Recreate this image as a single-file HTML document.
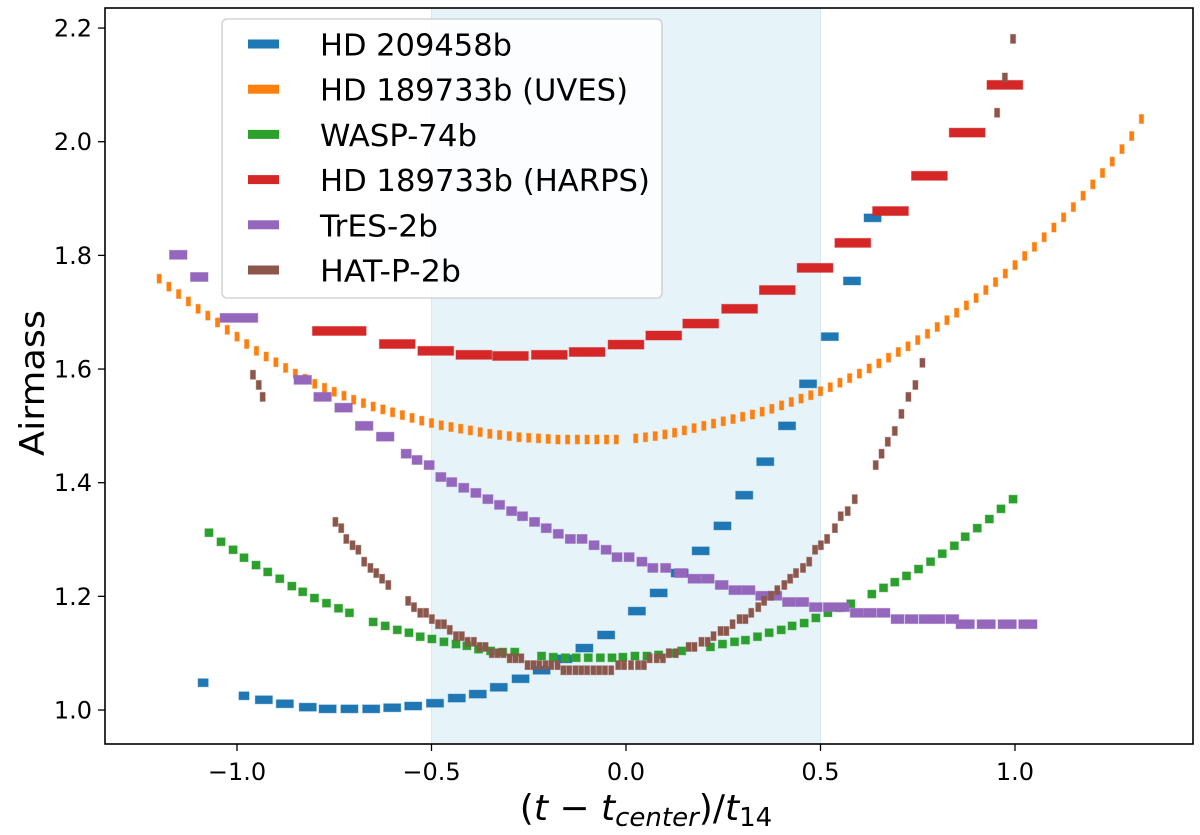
<!DOCTYPE html>
<html><head><meta charset="utf-8"><style>
html,body{margin:0;padding:0;background:#fff;}
svg{display:block;font-family:"DejaVu Sans","Liberation Sans",sans-serif;}
</style></head><body>
<svg id="chart" width="1200" height="835" viewBox="0 0 1200 835" xmlns="http://www.w3.org/2000/svg">
<rect x="0" y="0" width="1200" height="835" fill="#fff"/>
<g id="shade"></g>
<g id="marks"></g>
<rect x="105" y="8" width="1088" height="736" fill="none" stroke="#000" stroke-width="1.6"/>
<g id="axes"></g>
<text x="646" y="820" text-anchor="middle" font-size="36" font-family="DejaVu Sans, Liberation Sans, sans-serif">(<tspan font-style="italic">t</tspan> − <tspan font-style="italic">t</tspan><tspan font-style="italic" font-size="26" dy="6">center</tspan><tspan dy="-6">)/</tspan><tspan font-style="italic">t</tspan><tspan font-size="26" dy="6">14</tspan></text>
<text transform="translate(44,383) rotate(-90)" text-anchor="middle" font-size="34" textLength="146" lengthAdjust="spacingAndGlyphs">Airmass</text>
<g id="legend"></g>
</svg>
<script>
const xTicks=[-1.0,-0.5,0.0,0.5,1.0];
const xTickLabels=["−1.0","−0.5","0.0","0.5","1.0"];
const yTicks=[1.0,1.2,1.4,1.6,1.8,2.0,2.2];
const yTickLabels=["1.0","1.2","1.4","1.6","1.8","2.0","2.2"];
const transitStart=-0.5, transitEnd=0.5;

const blueX=[-1.087,-0.982,-0.931,-0.877,-0.818,-0.767,-0.711,-0.655,-0.601,-0.547,-0.491,-0.435,-0.381,-0.327,-0.271,-0.217,-0.161,-0.107,-0.051,0.028,0.084,0.138,0.192,0.248,0.304,0.358,0.414,0.468,0.524,0.581,0.634];
const blueY=[1.048,1.025,1.018,1.011,1.005,1.002,1.002,1.002,1.004,1.007,1.012,1.021,1.028,1.040,1.055,1.070,1.090,1.109,1.132,1.174,1.206,1.241,1.280,1.324,1.378,1.437,1.500,1.574,1.657,1.755,1.866];
const blueW=[0.026,0.026,0.044,0.044,0.044,0.044,0.044,0.044,0.044,0.044,0.044,0.044,0.044,0.044,0.044,0.044,0.044,0.044,0.044,0.044,0.044,0.044,0.044,0.044,0.044,0.044,0.044,0.044,0.044,0.044,0.044];

const orangeX=[-1.2,-1.175,-1.15,-1.125,-1.1,-1.075,-1.05,-1.025,-1.0,-0.975,-0.95,-0.925,-0.9,-0.875,-0.85,-0.825,-0.8,-0.775,-0.75,-0.725,-0.7,-0.675,-0.65,-0.625,-0.6,-0.575,-0.55,-0.525,-0.5,-0.475,-0.45,-0.425,-0.4,-0.375,-0.35,-0.325,-0.3,-0.275,-0.25,-0.225,-0.2,-0.175,-0.15,-0.125,-0.1,-0.075,-0.05,-0.025,0.025,0.05,0.075,0.1,0.125,0.15,0.175,0.2,0.225,0.25,0.275,0.3,0.325,0.35,0.375,0.4,0.425,0.45,0.475,0.5,0.525,0.55,0.575,0.6,0.625,0.65,0.675,0.7,0.725,0.75,0.775,0.8,0.825,0.85,0.875,0.9,0.925,0.95,0.975,1.0,1.025,1.05,1.075,1.1,1.125,1.15,1.175,1.2,1.225,1.25,1.275,1.3,1.325];
const orangeY=[1.759,1.745,1.732,1.719,1.706,1.694,1.682,1.669,1.657,1.644,1.632,1.622,1.612,1.602,1.592,1.583,1.574,1.567,1.560,1.553,1.546,1.540,1.534,1.529,1.524,1.519,1.514,1.509,1.505,1.501,1.498,1.495,1.492,1.489,1.486,1.484,1.482,1.480,1.479,1.478,1.477,1.476,1.476,1.476,1.476,1.476,1.476,1.476,1.478,1.480,1.482,1.485,1.488,1.492,1.496,1.500,1.504,1.508,1.512,1.516,1.520,1.525,1.530,1.536,1.542,1.548,1.554,1.561,1.568,1.576,1.584,1.592,1.601,1.610,1.620,1.630,1.640,1.651,1.662,1.674,1.686,1.699,1.712,1.725,1.739,1.753,1.768,1.783,1.799,1.815,1.832,1.849,1.867,1.885,1.905,1.925,1.945,1.965,1.987,2.010,2.040];

const greenX=[-1.072,-1.041,-1.010,-0.982,-0.951,-0.921,-0.890,-0.859,-0.831,-0.801,-0.770,-0.739,-0.711,-0.650,-0.619,-0.588,-0.558,-0.529,-0.499,-0.468,-0.437,-0.409,-0.379,-0.348,-0.317,-0.286,-0.217,-0.187,-0.156,-0.128,-0.097,-0.066,-0.036,-0.008,0.023,0.054,0.084,0.115,0.143,0.217,0.248,0.279,0.307,0.338,0.368,0.399,0.427,0.458,0.488,0.519,0.550,0.578,0.632,0.662,0.691,0.721,0.752,0.783,0.813,0.844,0.872,0.903,0.934,0.964,0.995];
const greenY=[1.312,1.296,1.282,1.268,1.255,1.243,1.231,1.218,1.208,1.197,1.188,1.179,1.171,1.155,1.148,1.141,1.136,1.129,1.125,1.120,1.116,1.113,1.107,1.104,1.102,1.102,1.095,1.093,1.092,1.092,1.092,1.092,1.092,1.093,1.095,1.095,1.097,1.100,1.104,1.111,1.116,1.120,1.123,1.129,1.136,1.141,1.148,1.153,1.162,1.171,1.180,1.187,1.204,1.215,1.225,1.236,1.248,1.261,1.275,1.289,1.305,1.320,1.336,1.354,1.371];

const redX=[-0.737,-0.588,-0.489,-0.391,-0.297,-0.197,-0.1,0.0,0.097,0.192,0.292,0.389,0.486,0.583,0.68,0.78,0.877,0.974];
const redY=[1.667,1.644,1.632,1.625,1.623,1.625,1.630,1.643,1.659,1.680,1.706,1.739,1.778,1.822,1.878,1.940,2.016,2.100];
const redW=[0.138,0.092,0.092,0.092,0.092,0.092,0.092,0.092,0.092,0.092,0.092,0.092,0.092,0.092,0.092,0.092,0.092,0.092];

const purpleX=[-1.151,-1.097,-0.995,-0.831,-0.780,-0.726,-0.673,-0.619,-0.565,-0.537,-0.506,-0.476,-0.448,-0.417,-0.386,-0.355,-0.325,-0.294,-0.266,-0.235,-0.205,-0.174,-0.143,-0.113,-0.082,-0.051,-0.023,0.008,0.041,0.069,0.102,0.141,0.176,0.210,0.246,0.281,0.315,0.350,0.384,0.419,0.453,0.488,0.524,0.558,0.593,0.627,0.662,0.698,0.734,0.770,0.803,0.839,0.872,0.926,0.980,1.033];
const purpleY=[1.801,1.762,1.690,1.581,1.551,1.532,1.500,1.481,1.451,1.440,1.431,1.410,1.401,1.391,1.382,1.371,1.361,1.350,1.341,1.331,1.320,1.310,1.301,1.301,1.290,1.282,1.269,1.269,1.261,1.250,1.250,1.241,1.231,1.231,1.220,1.211,1.211,1.201,1.201,1.190,1.190,1.181,1.181,1.181,1.171,1.171,1.171,1.160,1.160,1.160,1.160,1.160,1.151,1.151,1.151,1.151];
const purpleW=[0.045,0.045,0.097,0.045,0.045,0.045,0.045,0.045,0.026,0.026,0.026,0.026,0.026,0.026,0.026,0.026,0.026,0.026,0.026,0.026,0.026,0.026,0.026,0.026,0.026,0.026,0.026,0.026,0.026,0.026,0.026,0.033,0.033,0.033,0.033,0.033,0.033,0.033,0.033,0.033,0.033,0.033,0.033,0.033,0.033,0.033,0.033,0.033,0.033,0.033,0.033,0.033,0.047,0.047,0.047,0.047];

const brownX=[-0.959,-0.944,-0.934,-0.747,-0.732,-0.719,-0.703,-0.688,-0.673,-0.657,-0.642,-0.627,-0.611,-0.560,-0.545,-0.529,-0.514,-0.499,-0.483,-0.468,-0.453,-0.437,-0.422,-0.407,-0.391,-0.376,-0.361,-0.345,-0.330,-0.315,-0.299,-0.284,-0.269,-0.253,-0.238,-0.223,-0.207,-0.192,-0.176,-0.161,-0.146,-0.130,-0.115,-0.100,-0.084,-0.069,-0.054,-0.038,-0.020,-0.005,0.013,0.031,0.046,0.061,0.079,0.095,0.110,0.128,0.161,0.176,0.194,0.210,0.225,0.243,0.258,0.274,0.292,0.307,0.322,0.340,0.355,0.373,0.389,0.407,0.422,0.437,0.455,0.471,0.486,0.501,0.517,0.537,0.552,0.570,0.588,0.642,0.657,0.673,0.691,0.708,0.726,0.744,0.762,0.954,0.974,0.995];
const brownY=[1.590,1.572,1.551,1.331,1.320,1.301,1.290,1.282,1.261,1.250,1.241,1.231,1.220,1.192,1.181,1.171,1.171,1.160,1.151,1.151,1.141,1.130,1.130,1.120,1.120,1.111,1.111,1.100,1.100,1.100,1.091,1.091,1.091,1.079,1.079,1.079,1.079,1.079,1.079,1.070,1.070,1.070,1.070,1.070,1.070,1.070,1.070,1.070,1.079,1.079,1.079,1.079,1.079,1.091,1.091,1.091,1.100,1.100,1.111,1.111,1.120,1.120,1.130,1.139,1.139,1.151,1.160,1.160,1.171,1.181,1.192,1.201,1.211,1.220,1.231,1.241,1.250,1.261,1.282,1.290,1.301,1.320,1.341,1.350,1.371,1.431,1.451,1.472,1.491,1.521,1.551,1.572,1.611,2.051,2.113,2.181];

const legendLabels=["HD 209458b","HD 189733b (UVES)","WASP-74b","HD 189733b (HARPS)","TrES-2b","HAT-P-2b"];
const legendColors=["#1f77b4","#ff7f0e","#2ca02c","#d62728","#9467bd","#8c564b"];

const PX0=105,PX1=1193,PY0=8,PY1=744;
const XMIN=-1.3393,XMAX=1.4576,YMIN=0.9402,YMAX=2.2353;
function xs(v){return PX0+(v-XMIN)/(XMAX-XMIN)*(PX1-PX0);}
function ys(v){return PY1-(v-YMIN)/(YMAX-YMIN)*(PY1-PY0);}
function wpx(w){return w/(XMAX-XMIN)*(PX1-PX0);}
const NS="http://www.w3.org/2000/svg";
function mk(tag,parent){const e=document.createElementNS(NS,tag);parent.appendChild(e);return e;}

const shade=document.getElementById('shade');
const sp=mk('rect',shade);


sp.setAttribute('x',xs(transitStart));sp.setAttribute('y',PY0);
sp.setAttribute('width',xs(transitEnd)-xs(transitStart));sp.setAttribute('height',PY1-PY0);
sp.setAttribute('fill','#e6f4fa');sp.setAttribute('stroke','#d4ebf5');sp.setAttribute('stroke-width','1');

const marks=document.getElementById('marks');
function drawSeries(name,X,Y,W,h,color){
  const g=mk('g',marks);
  
  
  for(let i=0;i<X.length;i++){
    const w=wpx(W[i]);
    const r=mk('rect',g);
    
    
    r.setAttribute('x',(xs(X[i])-w/2).toFixed(2));
    r.setAttribute('y',(ys(Y[i])-h/2).toFixed(2));
    r.setAttribute('width',w.toFixed(2));r.setAttribute('height',h);
    r.setAttribute('fill',color);r.setAttribute('stroke',color);r.setAttribute('stroke-opacity','0.45');r.setAttribute('stroke-width','1');
  }
}
function constW(X,w){return X.map(()=>w);}
drawSeries('hd209458b',blueX,blueY,blueW,8,legendColors[0]);
drawSeries('hd189733b-uves',orangeX,orangeY,constW(orangeX,0.011),9,legendColors[1]);
drawSeries('wasp74b',greenX,greenY,constW(greenX,0.021),8,legendColors[2]);
drawSeries('hd189733b-harps',redX,redY,redW,9,legendColors[3]);
drawSeries('tres2b',purpleX,purpleY,purpleW,9,legendColors[4]);
drawSeries('hatp2b',brownX,brownY,constW(brownX,0.013),9,legendColors[5]);

const axes=document.getElementById('axes');
xTicks.forEach((t,i)=>{
  const l=mk('line',axes);
  
  
  l.setAttribute('x1',xs(t));l.setAttribute('x2',xs(t));l.setAttribute('y1',PY1);l.setAttribute('y2',PY1+7);
  l.setAttribute('stroke','#000');l.setAttribute('stroke-width','1.3');
  const tx=mk('text',axes);
  
  
  tx.setAttribute('x',xs(t));tx.setAttribute('y',PY1+36);tx.setAttribute('text-anchor','middle');tx.setAttribute('font-size','24');
  tx.textContent=xTickLabels[i];
});
yTicks.forEach((t,i)=>{
  const l=mk('line',axes);
  
  
  l.setAttribute('x1',PX0-7);l.setAttribute('x2',PX0);l.setAttribute('y1',ys(t));l.setAttribute('y2',ys(t));
  l.setAttribute('stroke','#000');l.setAttribute('stroke-width','1.3');
  const tx=mk('text',axes);
  
  
  tx.setAttribute('x',PX0-13);tx.setAttribute('y',ys(t)+8.5);tx.setAttribute('text-anchor','end');tx.setAttribute('font-size','24');
  tx.textContent=yTickLabels[i];
});

const leg=document.getElementById('legend');
const box=mk('rect',leg);


box.setAttribute('x',222);box.setAttribute('y',19);box.setAttribute('width',440);box.setAttribute('height',279);box.setAttribute('rx',5);
box.setAttribute('fill','#fff');box.setAttribute('fill-opacity','0.82');box.setAttribute('stroke','#cccccc');box.setAttribute('stroke-width','1.3');
const legTextW=[192,308,157,330,118,141];
legendLabels.forEach((lab,i)=>{
  const cy=44+i*45.2;
  const g=mk('g',leg);
  
  
  const r=mk('rect',g);
  
  
  r.setAttribute('x',248);r.setAttribute('y',cy-4.5);r.setAttribute('width',31);r.setAttribute('height',9);
  r.setAttribute('fill',legendColors[i]);
  const t=mk('text',g);
  
  
  t.setAttribute('x',320);t.setAttribute('y',cy+11.5);t.setAttribute('font-size','30');
  t.setAttribute('textLength',legTextW[i]);t.setAttribute('lengthAdjust','spacingAndGlyphs');
  t.textContent=lab;
});
</script>
</body></html>
